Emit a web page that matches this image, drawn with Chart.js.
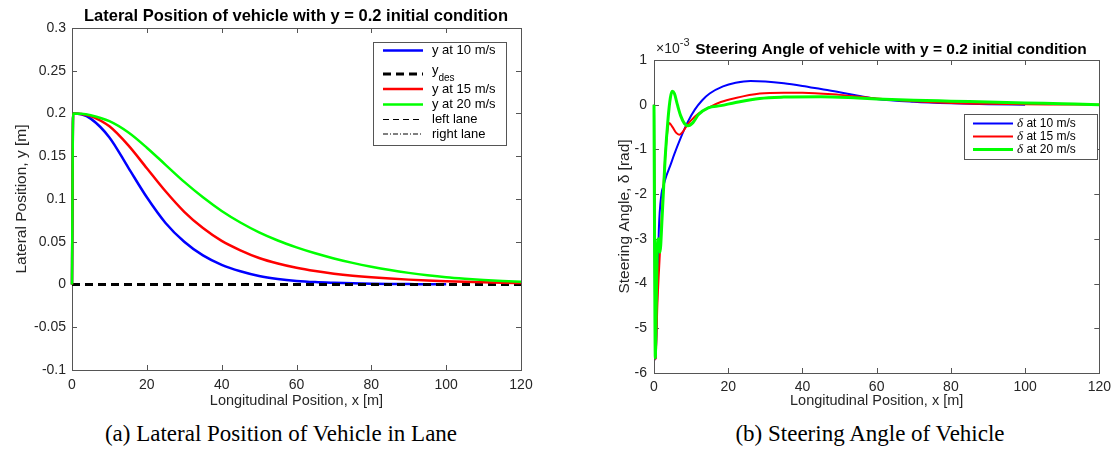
<!DOCTYPE html>
<html>
<head>
<meta charset="utf-8">
<script src="https://cdn.jsdelivr.net/npm/chart.js@4.4.0/dist/chart.umd.min.js"></script>
<style>
  body { margin: 0; background: #fff; width: 1117px; height: 459px; position: relative; overflow: hidden; }
  #wrapA { position: absolute; left: 0; top: 0; width: 560px; height: 420px; }
  #wrapB { position: absolute; left: 560px; top: 0; width: 557px; height: 420px; }
  .cap { position: absolute; top: 421px; font-family: "Liberation Serif", serif; font-size: 23px; color: #000; white-space: nowrap; transform: translateX(-50%); }
</style>
</head>
<body>
<div id="wrapA"><canvas id="chartA" width="560" height="420"></canvas></div>
<div id="wrapB"><canvas id="chartB" width="557" height="420"></canvas></div>
<div class="cap" style="left:281px">(a) Lateral Position of Vehicle in Lane</div>
<div class="cap" style="left:870px">(b) Steering Angle of Vehicle</div>

<script>
// tick labels
const xTicks = [0, 20, 40, 60, 80, 100, 120];
const latTicks = [-0.1, -0.05, 0, 0.05, 0.1, 0.15, 0.2, 0.25, 0.3];
const steerTicks = [-6, -5, -4, -3, -2, -1, 0, 1];

// lateral position y [m] vs x [m]
const latX = [0, 0.3, 2.5, 5, 10, 15, 20, 25, 30, 35, 40, 45, 50, 55, 60, 65, 70, 75, 80, 85, 90, 95, 100, 105, 110, 115, 120];
const lat10X = latX.slice(0, 23);
const lat10Y = [0, 0.2, 0.199, 0.194, 0.172, 0.137, 0.102, 0.072, 0.05, 0.034, 0.023, 0.0155, 0.010, 0.0065, 0.0042, 0.0028, 0.002, 0.0014, 0.001, 0.0007, 0.0005, 0.0003, 0.0002];
const lat15Y = [0, 0.2, 0.1995, 0.197, 0.185, 0.163, 0.136, 0.109, 0.085, 0.066, 0.051, 0.040, 0.031, 0.0245, 0.0195, 0.0157, 0.0127, 0.0103, 0.0084, 0.0069, 0.0057, 0.0047, 0.0039, 0.0032, 0.0026, 0.0021, 0.0017];
const lat20Y = [0, 0.2, 0.1998, 0.198, 0.191, 0.178, 0.160, 0.140, 0.120, 0.102, 0.086, 0.0725, 0.061, 0.0515, 0.0435, 0.0365, 0.0305, 0.0253, 0.0208, 0.0169, 0.0136, 0.0108, 0.0085, 0.0068, 0.0054, 0.0042, 0.0032];
const desX = [0, 120];
const desY = [0, 0];

// steering angle delta [x10^-3 rad] vs x [m]
const st10X = [0, 0.15, 0.45, 0.8, 1.3, 2.0, 2.5, 3.3, 4.3, 5.5, 7, 9, 11, 13, 15, 18.6, 22, 26, 30, 35, 40, 45, 50, 55, 60, 70, 80, 90, 100];
const st10Y = [0, -3.0, -5.7, -4.5, -2.8, -2.0, -1.83, -1.6, -1.38, -1.1, -0.78, -0.4, -0.11, 0.1, 0.25, 0.41, 0.49, 0.53, 0.52, 0.48, 0.42, 0.35, 0.28, 0.2, 0.13, 0.065, 0.03, 0.01, 0];
const st15X = [0, 0.2, 0.45, 0.9, 1.6, 2.3, 3.0, 3.6, 4.1, 5.0, 6.0, 6.8, 7.8, 9.0, 10, 12, 14.6, 18, 22, 28.5, 35, 40, 50, 60, 70, 80, 90, 100, 110, 120];
const st15Y = [0, -3, -5.7, -4.5, -3.3, -2.2, -1.2, -0.6, -0.41, -0.5, -0.63, -0.67, -0.6, -0.45, -0.35, -0.2, -0.07, 0.06, 0.15, 0.25, 0.27, 0.27, 0.22, 0.14, 0.08, 0.04, 0.02, 0.01, 0.005, 0];
const st20X = [0, 0.15, 0.35, 0.6, 0.9, 1.2, 1.6, 2.2, 3.0, 3.8, 4.4, 4.9, 5.5, 6.3, 7.2, 8.2, 9.2, 10.5, 12, 14.6, 18, 22, 28.5, 35, 45, 55, 60, 70, 80, 90, 100, 110, 120];
const st20Y = [0, -3, -5.66, -4.5, -3.2, -3.0, -3.3, -2.5, -1.2, -0.3, 0.15, 0.3, 0.25, 0.0, -0.25, -0.42, -0.47, -0.4, -0.22, -0.07, -0.02, 0.05, 0.14, 0.17, 0.18, 0.15, 0.13, 0.1, 0.08, 0.06, 0.04, 0.02, 0.0];

const TXT = '#262626';
const SANS = '"Liberation Sans", Arial, sans-serif';

function pts(xs, ys) {
    return xs.map((x, i) => ({ x: x, y: ys[i] }));
}

// box with inward ticks on all four sides, like matlab axes
const framePlugin = {
    id: 'frame',
    beforeDatasetsDraw(chart) {
        const { ctx, chartArea: a, scales } = chart;
        ctx.save();
        ctx.strokeStyle = '#555';
        ctx.lineWidth = 1;
        ctx.strokeRect(Math.round(a.left) + 0.5, Math.round(a.top) + 0.5, Math.round(a.right - a.left), Math.round(a.bottom - a.top));
        ctx.beginPath();
        scales.x.ticks.forEach(t => {
            const px = Math.round(scales.x.getPixelForValue(t.value)) + 0.5;
            ctx.moveTo(px, a.bottom); ctx.lineTo(px, a.bottom - 5);
            ctx.moveTo(px, a.top); ctx.lineTo(px, a.top + 5);
        });
        scales.y.ticks.forEach(t => {
            const py = Math.round(scales.y.getPixelForValue(t.value)) + 0.5;
            ctx.moveTo(a.left, py); ctx.lineTo(a.left + 5, py);
            ctx.moveTo(a.right, py); ctx.lineTo(a.right - 5, py);
        });
        ctx.stroke();
        ctx.restore();
    },
    afterDraw(chart, args, opts) {
        const ctx = chart.ctx;
        ctx.save();
        ctx.fillStyle = '#000';
        ctx.font = 'bold ' + opts.titleSize + 'px ' + SANS;
        ctx.textAlign = 'center';
        ctx.textBaseline = 'alphabetic';
        ctx.fillText(opts.title, opts.titleX, opts.titleY);
        if (opts.exponent) {
            const a = chart.chartArea;
            ctx.fillStyle = TXT;
            ctx.textAlign = 'left';
            ctx.font = '14px ' + SANS;
            ctx.fillText('\u00d710', a.left + 2, opts.titleY - 1);
            const w = ctx.measureText('\u00d710').width;
            ctx.font = '11px ' + SANS;
            ctx.fillText(opts.exponent, a.left + 2 + w, opts.titleY - 8);
        }
        ctx.restore();
    }
};

// legend drawn by hand so subscripts and the italic delta come out right
const legendPlugin = {
    id: 'boxLegend',
    afterDraw(chart, args, o) {
        const ctx = chart.ctx;
        ctx.save();
        ctx.fillStyle = '#fff';
        ctx.fillRect(o.x, o.y, o.w, o.h);
        ctx.strokeStyle = '#555';
        ctx.lineWidth = 1;
        ctx.strokeRect(o.x + 0.5, o.y + 0.5, o.w, o.h);
        chart.data.datasets.forEach((ds, i) => {
            const ry = o.rows[i];
            ctx.beginPath();
            ctx.strokeStyle = ds.borderColor;
            ctx.lineWidth = ds.borderWidth;
            ctx.setLineDash(ds.borderDash || []);
            ctx.moveTo(o.x1, ry);
            ctx.lineTo(o.x2, ry);
            ctx.stroke();
            ctx.setLineDash([]);
            ctx.fillStyle = '#000';
            ctx.textAlign = 'left';
            ctx.textBaseline = 'middle';
            let tx = o.tx;
            let label = ds.label;
            if (label.startsWith('\u03b4')) {
                ctx.font = 'italic ' + (o.fontSize + 1) + 'px "Liberation Serif", serif';
                ctx.fillText('\u03b4', tx, ry);
                tx += ctx.measureText('\u03b4').width;
                label = label.slice(1);
            }
            if (label.includes('_')) {
                const parts = label.split('_');
                ctx.font = o.fontSize + 'px ' + SANS;
                ctx.fillText(parts[0], tx, ry - 4);
                tx += ctx.measureText(parts[0]).width;
                ctx.font = (o.fontSize - 3) + 'px ' + SANS;
                ctx.fillText(parts[1], tx, ry + 4);
            } else {
                ctx.font = o.fontSize + 'px ' + SANS;
                ctx.fillText(label, tx, ry);
            }
        });
        ctx.restore();
    }
};

function axisX(ticks, padTicks, titlePad, height) {
    return {
        type: 'linear', min: 0, max: 120,
        afterBuildTicks: s => { s.ticks = ticks.map(v => ({ value: v })); },
        afterFit: s => { s.height = height; },
        grid: { display: false, drawTicks: false },
        border: { display: false },
        ticks: { color: TXT, padding: padTicks, maxRotation: 0, font: { family: SANS, size: 14 }, callback: v => String(v) },
        title: { display: true, text: 'Longitudinal Position, x [m]', color: TXT, font: { family: SANS, size: 14.5 }, padding: { top: 0, bottom: titlePad } }
    };
}

function axisY(min, max, ticks, label, padTicks, titlePad, width) {
    return {
        type: 'linear', min: min, max: max,
        afterBuildTicks: s => { s.ticks = ticks.map(v => ({ value: v })); },
        afterFit: s => { s.width = width; },
        grid: { display: false, drawTicks: false },
        border: { display: false },
        ticks: { color: TXT, padding: padTicks, font: { family: SANS, size: 14 }, callback: v => String(v) },
        title: { display: true, text: label, color: TXT, font: { family: SANS, size: 15.5 }, padding: { top: titlePad, bottom: 0 } }
    };
}

function line(label, xs, ys, color, width, dash, order) {
    return {
        label: label, data: pts(xs, ys), borderColor: color, borderWidth: width,
        borderDash: dash, pointRadius: 0, fill: false, cubicInterpolationMode: 'monotone',
        clip: 4, order: order
    };
}

new Chart(document.getElementById('chartA'), {
    type: 'line',
    data: {
        datasets: [
            line('y at 10 m/s', lat10X, lat10Y, '#0000ff', 2.5, [], 6),
            line('y_des', desX, desY, '#000000', 3, [8, 5], 5),
            line('y at 15 m/s', latX, lat15Y, '#ff0000', 2.5, [], 4),
            line('y at 20 m/s', latX, lat20Y, '#00ff00', 2.5, [], 3),
            line('left lane', [], [], '#000000', 1, [6, 4], 2),
            line('right lane', [], [], '#000000', 1, [5, 2, 1, 2], 1)
        ]
    },
    options: {
        responsive: false,
        animation: false,
        layout: { padding: { left: 0, right: 39, top: 28, bottom: 0 } },
        scales: {
            x: axisX(xTicks, 7, 10, 50),
            y: axisY(-0.1, 0.3, latTicks, 'Lateral Position, y [m]', 6, 12.5, 72)
        },
        plugins: {
            legend: { display: false },
            tooltip: { enabled: false },
            frame: { title: 'Lateral Position of vehicle with y = 0.2 initial condition', titleX: 296, titleY: 21, titleSize: 16.5 },
            boxLegend: { x: 373, y: 42, w: 133, h: 103, rows: [50.5, 74, 89, 104.5, 119.5, 134], x1: 383, x2: 423, tx: 432, fontSize: 13 }
        }
    },
    plugins: [framePlugin, legendPlugin]
});

new Chart(document.getElementById('chartB'), {
    type: 'line',
    data: {
        datasets: [
            line('\u03b4 at 10 m/s', st10X, st10Y, '#0000ff', 2, [], 3),
            line('\u03b4 at 15 m/s', st15X, st15Y, '#ff0000', 2, [], 2),
            line('\u03b4 at 20 m/s', st20X, st20Y, '#00ff00', 3, [], 1)
        ]
    },
    options: {
        responsive: false,
        animation: false,
        layout: { padding: { left: 0, right: 17, top: 60, bottom: 0 } },
        scales: {
            x: axisX(xTicks, 6, 10, 47),
            y: axisY(-6, 1, steerTicks, 'Steering Angle, \u03b4 [rad]', 7, 55.5, 94)
        },
        plugins: {
            legend: { display: false },
            tooltip: { enabled: false },
            frame: { title: 'Steering Angle of vehicle with y = 0.2 initial condition', titleX: 331, titleY: 54, titleSize: 15.5, exponent: '-3' },
            boxLegend: { x: 404, y: 114, w: 133, h: 45, rows: [123.5, 136.5, 149.5], x1: 413, x2: 453, tx: 457, fontSize: 12 }
        }
    },
    plugins: [framePlugin, legendPlugin]
});
</script>
</body>
</html>
